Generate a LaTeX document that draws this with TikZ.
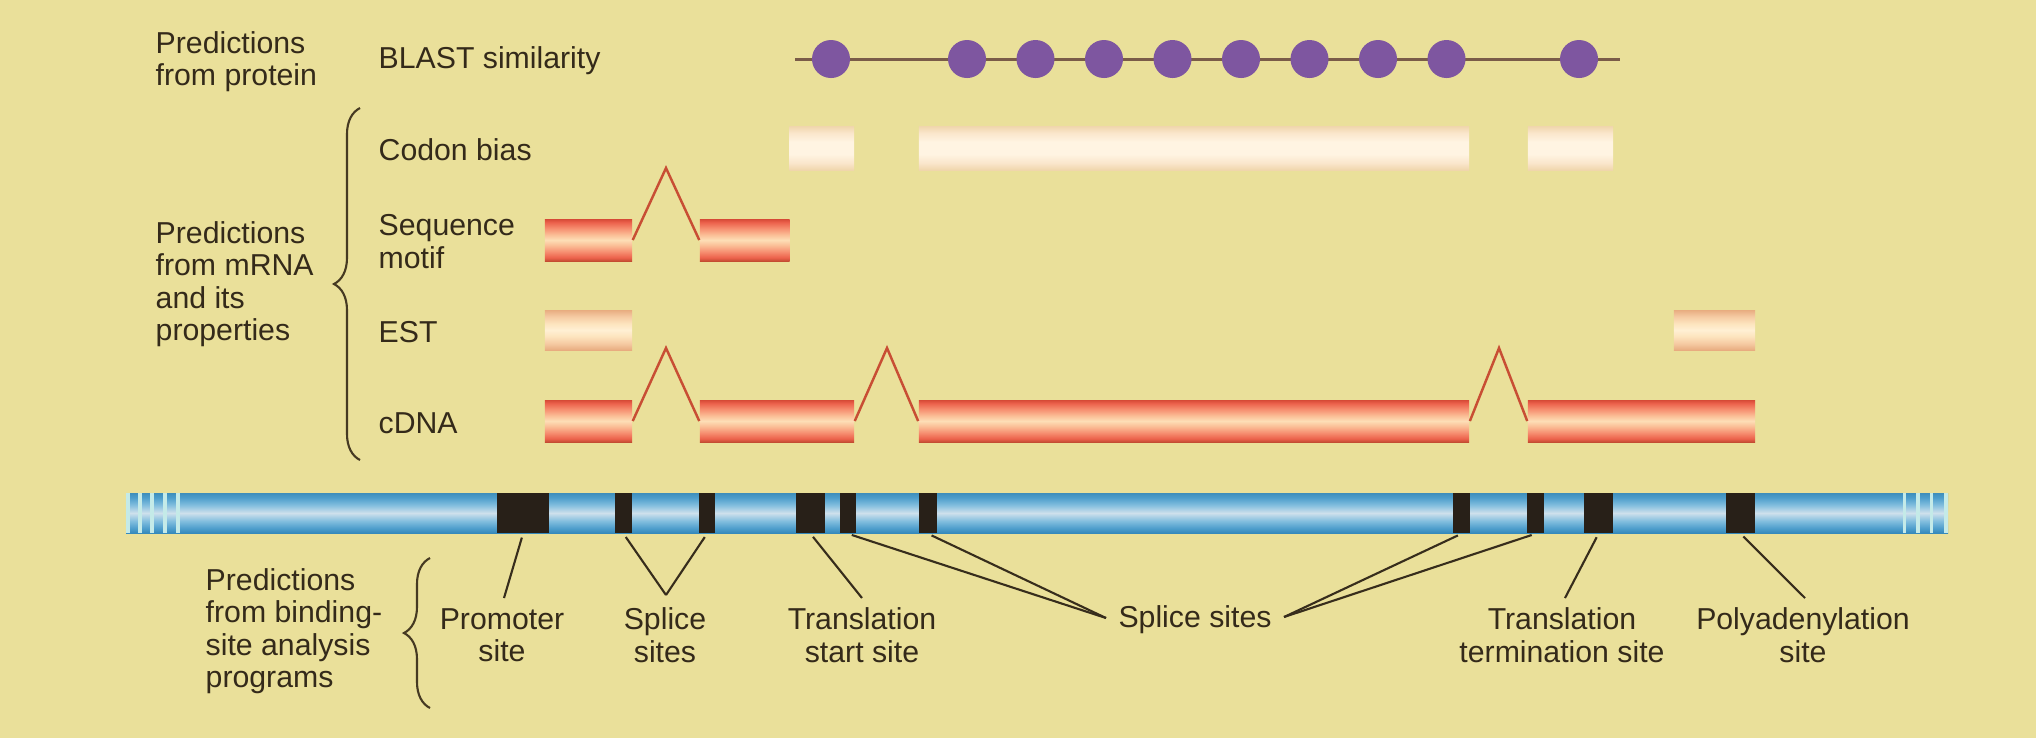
\documentclass[tikz,border=0pt]{standalone}
\usepackage{fontspec}
\setmainfont{Liberation Sans}
\usetikzlibrary{shapes.geometric,decorations.pathreplacing}

\definecolor{paper}{RGB}{234,224,154}
\definecolor{ink}{RGB}{52,42,26}
\definecolor{leadline}{RGB}{55,45,28}
\definecolor{bracecol}{RGB}{70,58,34}
\definecolor{sitebox}{RGB}{40,32,24}
\definecolor{blastdot}{RGB}{126,86,160}
\definecolor{blastline}{RGB}{122,92,72}
\definecolor{intron}{RGB}{200,78,52}
% red tube (cDNA, sequence motif)
\definecolor{rEdgeT}{RGB}{214,74,54}
\definecolor{rEdgeB}{RGB}{196,76,50}
\definecolor{rRed}{RGB}{236,98,76}
\definecolor{rSalmon}{RGB}{246,142,112}
\definecolor{rLight}{RGB}{251,192,152}
\definecolor{rPale}{RGB}{253,222,182}
% pale tube (EST)
\definecolor{eEdge}{RGB}{232,172,128}
\definecolor{eMid}{RGB}{245,202,162}
\definecolor{eLight}{RGB}{253,228,190}
\definecolor{ePale}{RGB}{255,240,212}
% soft cream band (codon bias)
\definecolor{kEdge}{RGB}{240,214,172}
\definecolor{kMid}{RGB}{250,230,204}
\definecolor{kPale}{RGB}{255,244,226}
% blue chromosome
\definecolor{bEdgeT}{RGB}{62,142,188}
\definecolor{bEdgeB}{RGB}{54,138,188}
\definecolor{bDark}{RGB}{78,158,204}
\definecolor{bMid}{RGB}{130,190,222}
\definecolor{bLight}{RGB}{206,224,236}
\definecolor{bStripe}{RGB}{196,234,232}

\pgfdeclareverticalshading{redtube}{100bp}{color(0bp)=(rEdgeB); color(25bp)=(rEdgeB);
  color(29bp)=(rRed); color(36bp)=(rSalmon); color(44bp)=(rLight); color(50bp)=(rPale);
  color(56bp)=(rLight); color(64bp)=(rSalmon); color(71bp)=(rRed); color(75bp)=(rEdgeT);
  color(100bp)=(rEdgeT)}
\pgfdeclareverticalshading{esttube}{100bp}{color(0bp)=(eEdge); color(25bp)=(eEdge);
  color(33bp)=(eMid); color(42bp)=(eLight); color(50bp)=(ePale); color(58bp)=(eLight);
  color(67bp)=(eMid); color(75bp)=(eEdge); color(100bp)=(eEdge)}
\pgfdeclareverticalshading{codontube}{100bp}{color(0bp)=(paper); color(25bp)=(kEdge);
  color(33bp)=(kMid); color(43bp)=(kPale); color(57bp)=(kPale); color(67bp)=(kMid);
  color(75bp)=(kEdge); color(100bp)=(paper)}
\pgfdeclareverticalshading{bluetube}{100bp}{color(0bp)=(bEdgeB); color(25bp)=(bEdgeB);
  color(31bp)=(bDark); color(40bp)=(bMid); color(50bp)=(bLight); color(60bp)=(bMid);
  color(69bp)=(bDark); color(75bp)=(bEdgeT); color(100bp)=(bEdgeT)}

\begin{document}
\begin{tikzpicture}[x=0.01cm,y=-0.01cm,
  txt/.style={font=\fontsize{8.6}{9.2}\selectfont, text=ink, inner sep=0pt},
  leftlbl/.style={txt, align=left, anchor=west},
  sitelbl/.style={txt, align=center},
  redbar/.style={shade, shading=redtube, inner sep=0pt, minimum height=0.42cm},
  estbar/.style={shade, shading=esttube, inner sep=0pt, minimum height=0.40cm},
  codonbar/.style={shade, shading=codontube, inner sep=0pt, minimum height=0.44cm},
  sitemark/.style={fill=sitebox, inner sep=0pt, minimum height=0.40cm},
  hit/.style={circle, fill=blastdot, inner sep=0pt, minimum size=0.38cm},
  introncon/.style={draw=intron, line width=0.7pt, line join=miter},
  leadcon/.style={draw=leadline, line width=0.6pt, shorten <=0.04cm},
  groupbrace/.style={draw=bracecol, line width=0.6pt,
    decorate, decoration={brace, amplitude=0.26cm}},
]
% background
\fill[paper] (0,0) rectangle (2036,738);
\useasboundingbox (0,0) rectangle (2036,738);

% ---------- left-hand group labels ----------
\node[leftlbl] (gprot) at (155,61.5) {Predictions\\from protein};
\node[leftlbl] (gmrna) at (155,284) {Predictions\\from mRNA\\and its\\properties};
\node[leftlbl] (gbind) at (205,631) {Predictions\\from binding-\\site analysis\\programs};

% braces
\coordinate (mb0) at (360,460);
\coordinate (mb1) at (360,108);
\draw[groupbrace] (mb0) -- (mb1);
\coordinate (bb0) at (430,708);
\coordinate (bb1) at (430,558);
\draw[groupbrace] (bb0) -- (bb1);

% ---------- row labels ----------
\node[leftlbl] (lblast) at (378,61) {BLAST similarity};
\node[leftlbl] (lcodon) at (378,150) {Codon bias};
\node[leftlbl] (lmotif) at (378,241.5) {Sequence\\motif};
\node[leftlbl] (lest) at (378,332) {EST};
\node[leftlbl] (lcdna) at (378,423) {cDNA};

% ---------- BLAST similarity ----------
\coordinate (bl0) at (795,59);
\coordinate (bl1) at (1620,59);
\draw[blastline, line width=0.85pt] (bl0) -- (bl1);
\node[hit] (h1) at (831,59) {};
\node[hit] (h2) at (967,59) {};
\node[hit] (h3) at (1035.5,59) {};
\node[hit] (h4) at (1104,59) {};
\node[hit] (h5) at (1172.5,59) {};
\node[hit] (h6) at (1241,59) {};
\node[hit] (h7) at (1309.5,59) {};
\node[hit] (h8) at (1378,59) {};
\node[hit] (h9) at (1446.5,59) {};
\node[hit] (h10) at (1579,59) {};

% ---------- codon bias ----------
\node[codonbar, minimum width=0.645cm] (k1) at (821.75,148) {};
\node[codonbar, minimum width=5.50cm] (k2) at (1194,148) {};
\node[codonbar, minimum width=0.85cm] (k3) at (1570.5,148) {};

% ---------- sequence motif ----------
\node[redbar, minimum width=0.87cm] (m1) at (588.5,240) {};
\node[redbar, minimum width=0.895cm] (m2) at (744.75,240) {};
\coordinate (mp) at (666,168);
\draw[introncon] (m1.east) -- (mp) -- (m2.west);

% ---------- EST ----------
\node[estbar, minimum width=0.87cm] (e1) at (588.5,330) {};
\node[estbar, minimum width=0.81cm] (e2) at (1714.5,330) {};

% ---------- cDNA ----------
\node[redbar, minimum width=0.87cm] (c1) at (588.5,421) {};
\node[redbar, minimum width=1.54cm] (c2) at (777,421) {};
\node[redbar, minimum width=5.50cm] (c3) at (1194,421) {};
\node[redbar, minimum width=2.27cm] (c4) at (1641.5,421) {};
\coordinate (cp1) at (666,348);
\coordinate (cp2) at (887,348);
\coordinate (cp3) at (1499,348);
\draw[introncon] (c1.east) -- (cp1) -- (c2.west);
\draw[introncon] (c2.east) -- (cp2) -- (c3.west);
\draw[introncon] (c3.east) -- (cp3) -- (c4.west);

% ---------- genomic sequence ----------
\shade[shading=bluetube] (126,493) rectangle (1948,533);
\foreach \sx in {128,140,152,165,178,1904.5,1918,1931.5,1946}
  \fill[bStripe] (\sx-1.8,493) rectangle (\sx+1.8,533);

\node[sitemark, minimum width=0.52cm] (sP) at (523,513) {};
\node[sitemark, minimum width=0.17cm] (s1) at (623.5,513) {};
\node[sitemark, minimum width=0.16cm] (s2) at (707,513) {};
\node[sitemark, minimum width=0.29cm] (sT1) at (810.5,513) {};
\node[sitemark, minimum width=0.16cm] (s3) at (848,513) {};
\node[sitemark, minimum width=0.18cm] (s4) at (928,513) {};
\node[sitemark, minimum width=0.17cm] (s5) at (1461.5,513) {};
\node[sitemark, minimum width=0.17cm] (s6) at (1535.5,513) {};
\node[sitemark, minimum width=0.29cm] (sT2) at (1598.5,513) {};
\node[sitemark, minimum width=0.29cm] (sA) at (1740.5,513) {};

% ---------- site labels ----------
\node[sitelbl] (tP) at (502,635) {Promoter\\site};
\node[sitelbl] (tS) at (665,635) {Splice\\sites};
\node[sitelbl] (tT1) at (862,635) {Translation\\start site};
\node[sitelbl] (tSS) at (1195,620) {Splice sites};
\node[sitelbl] (tT2) at (1562,635) {Translation\\termination site};
\node[sitelbl] (tA) at (1803,635) {Polyadenylation\\site};

\coordinate (eP) at (504,598);
\coordinate (eS) at (666,595);
\coordinate (eT1) at (862,598);
\coordinate (eSSl) at (1106,618);
\coordinate (eSSr) at (1284,617);
\coordinate (eT2) at (1565,598);
\coordinate (eA) at (1805,598);

\draw[leadcon] (sP.south) -- (eP);
\draw[leadcon] (s1.south) -- (eS);
\draw[leadcon] (s2.south) -- (eS);
\draw[leadcon] (sT1.south) -- (eT1);
\draw[leadcon] (s3.south) -- (eSSl);
\draw[leadcon] (s4.south) -- (eSSl);
\draw[leadcon] (s5.south) -- (eSSr);
\draw[leadcon] (s6.south) -- (eSSr);
\draw[leadcon] (sT2.south) -- (eT2);
\draw[leadcon] (sA.south) -- (eA);
\end{tikzpicture}
\end{document}
